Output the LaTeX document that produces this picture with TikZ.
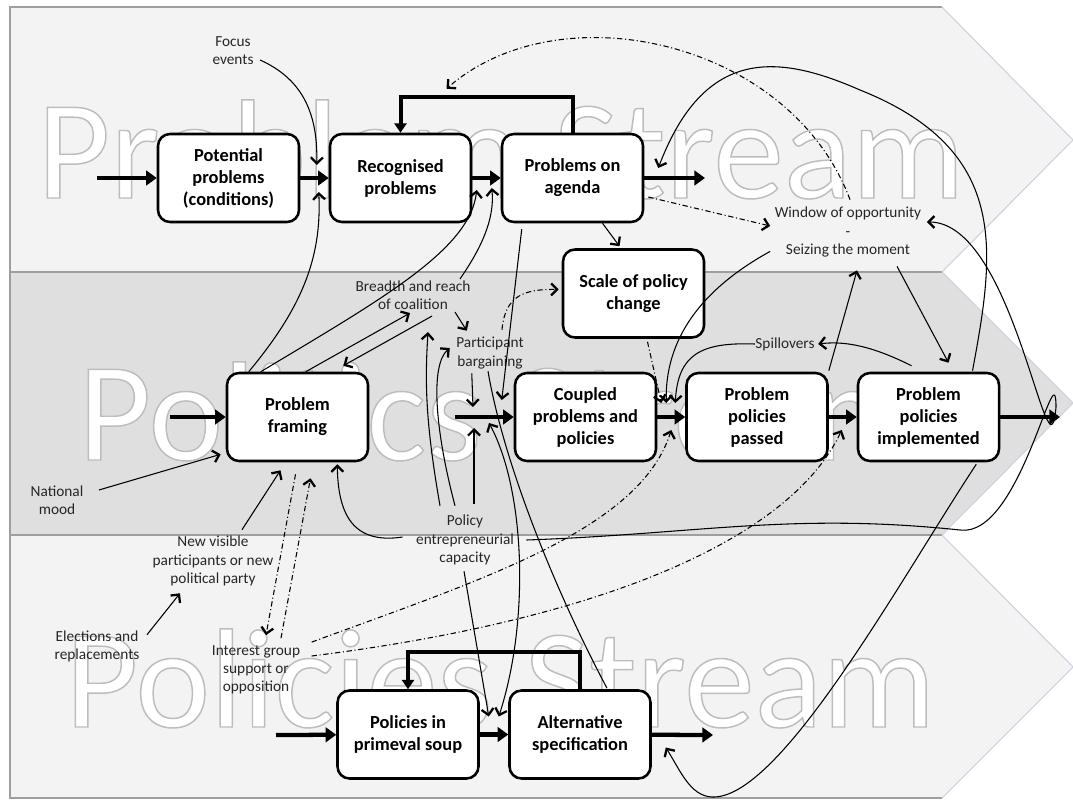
\documentclass[tikz,border=0pt]{standalone}
\usepackage{fontspec}
\setmainfont{Carlito}
\usetikzlibrary{arrows.meta,calc}

\definecolor{bandlight}{HTML}{F3F3F3}
\definecolor{banddark}{HTML}{DFDFDF}
\definecolor{bandedge}{HTML}{9E9E9E}
\definecolor{bandtip}{HTML}{CBD3E1}
\definecolor{labeltext}{HTML}{262626}

\tikzset{
  box/.style={draw=black, line width=1.9pt, fill=white, rounded corners=9pt,
    minimum width=105.75pt, minimum height=66pt, inner sep=0pt, align=center,
    font=\fontsize{13.8}{16.5}\selectfont\bfseries},
  lbl/.style={align=center, inner sep=1pt, text=labeltext,
    font=\fontsize{11.5}{13.6}\selectfont},
  mainarrow/.style={line width=3.2pt, -{Triangle[length=8pt,width=11pt]}},
  loopline/.style={line width=3pt, -{Triangle[length=7pt,width=9pt]}},
  conn/.style={line width=0.8pt, -{Straight Barb[length=4.5pt,width=9pt,line width=1.7pt]}},
  bothconn/.style={line width=0.8pt,
    {Straight Barb[length=4.5pt,width=9pt,line width=1.7pt]}-{Straight Barb[length=4.5pt,width=9pt,line width=1.7pt]}},
  plainconn/.style={line width=0.8pt},
  dashdot/.style={dash pattern=on 4pt off 2pt on 0.8pt off 2pt},
  wm/.style={anchor=base west, inner sep=0pt, text=white, font=\fontsize{106}{106}\selectfont},
}

% outlined lettering: white fill, thin grey stroke (PDF text render mode 2)
\newcommand\outlined[1]{%
  \special{pdf:literal direct 2 Tr 1.1 w 0.74 G}#1\special{pdf:literal direct 0 Tr}}

\begin{document}
\begin{tikzpicture}[x=0.75pt,y=-0.75pt]
\useasboundingbox (0,0) rectangle (1073,802);

% the three stream bands
\fill[bandlight] (10,7) -- (942,7) -- (1073,140) -- (942,272) -- (10,272) -- cycle;
\fill[banddark]  (10,272) -- (942,272) -- (1073,403) -- (942,535) -- (10,535) -- cycle;
\fill[bandlight] (10,535) -- (942,535) -- (1073,667) -- (942,798) -- (10,798) -- cycle;
\draw[bandedge, line width=0.8pt] (942,7) -- (10,7) -- (10,798) -- (942,798);
\draw[bandedge, line width=0.8pt] (10,272) -- (942,272) (10,535) -- (942,535);
\draw[bandtip, line width=0.8pt] (942,7) -- (1073,140) -- (942,272) -- (1073,403) -- (942,535) -- (1073,667) -- (942,798);

% stream titles
\node[wm] (wmtop) at (37,198) {\outlined{Problem Stream}};
\node[wm] (wmmid) at (78,460) {\outlined{Politics Stream}};
\node[wm] (wmbot) at (65,727) {\outlined{Policies Stream}};

% process boxes
\node[box] (pp)   at (228.5,178) {Potential\\problems\\(conditions)};
\node[box] (rp)   at (400.5,178) {Recognised\\problems};
\node[box] (pa)   at (572.5,178) {Problems on\\agenda};
\node[box] (sc)   at (633.5,293.5) {Scale of policy\\change};
\node[box] (pf)   at (297.5,417) {Problem\\framing};
\node[box] (cp)   at (585.5,417) {Coupled\\problems and\\policies};
\node[box] (ppas) at (757,417)   {Problem\\policies\\passed};
\node[box] (pimp) at (928.5,417) {Problem\\policies\\implemented};
\node[box] (soup) at (408,734.5) {Policies in\\primeval soup};
\node[box] (alt)  at (580,734.5) {Alternative\\specification};

% influence labels
\node[lbl] (focus)     at (233,51)  {Focus\\events};
\node[lbl] (window)    at (848,232) {Window of opportunity\\-\\Seizing the moment};
\node[lbl] (breadth)   at (413,295) {Breadth and reach\\of coalition};
\node[lbl] (barg)      at (490,353) {Participant\\bargaining};
\node[lbl] (spill)     at (785,344) {Spillovers};
\node[lbl] (national)  at (57,500)  {National\\mood};
\node[lbl] (cap)       at (465,540) {Policy\\entrepreneurial\\capacity};
\node[lbl] (newvis)    at (213,561) {New visible\\participants or new\\political party};
\node[lbl] (elections) at (97,646)  {Elections and\\replacements};
\node[lbl] (interest)  at (256,670) {Interest group\\support or\\opposition};

% free ends of the main flow
\coordinate (inP)  at (97,178);
\coordinate (outP) at (705,178);
\coordinate (inM)  at (170,417);
\coordinate (junc) at (455,417);
\coordinate (outM) at (1060,417);
\coordinate (inB)  at (276,735);
\coordinate (outB) at (713,735);

% main flow
\draw[mainarrow] (inP) -- (pp);
\draw[mainarrow] (pp) -- (rp);
\draw[mainarrow] (rp) -- (pa);
\draw[mainarrow] (pa) -- (outP);
\draw[loopline] (pa.north) -- ++(0,-36) -| (rp.north);
\draw[mainarrow] (inM) -- (pf);
\draw[mainarrow] (junc) -- (cp);
\draw[mainarrow] (cp) -- (ppas);
\draw[mainarrow] (ppas) -- (pimp);
\draw[mainarrow] (pimp) -- (outM);
\draw[mainarrow] (inB) -- (soup);
\draw[mainarrow] (soup) -- (alt);
\draw[mainarrow] (alt) -- (outB);
\draw[loopline] (alt.north) -- ++(0,-37) -| (soup.north);

% problem stream influences
\draw[conn] ($(focus.east)+(5,9)$) .. controls (300,78) and (318,110) .. ($(rp.west)+(-12,-13)$);
\draw[conn] ($(pf.north west)+(23,0)$) .. controls (300,310) and (322,260) .. ($(rp.west)+(-10,14)$);
\draw[conn] ($(pf.north west)+(35,0)$) .. controls (380,300) and (470,250) .. ($(pa.west)+(-24,12)$);
\draw[conn] ($(breadth.north east)+(-12,0)$) .. controls (480,250) and (495,220) .. ($(pa.west)+(-9,10)$);
\draw[conn] ($(pa.south)+(30,0)$) -- ($(sc.north)+(-14,-2)$);
\draw[conn,dashdot] ($(pa.east)+(4,19)$) -- ($(window.west)+(-3,-6)$);
\draw[conn,dashdot] ($(window.north)+(2,-6)$) .. controls (790,40) and (560,-10) .. ($(rp.north)+(46,-44)$);
\draw[conn] ($(pimp.north)+(44,-1)$) .. controls (995,250) and (1010,150) .. (860,90)
  .. controls (780,55) and (705,45) .. ($(pa.east)+(14,-10)$);

% politics stream influences
\draw[conn] ($(pf.north west)+(80,0)$) -- ($(breadth.south)+(-3,2)$);
\draw[conn] ($(breadth.south)+(19,5)$) -- ($(pf.north east)+(-26,-6)$);
\draw[conn] ($(breadth.south east)+(-17,1)$) -- ($(barg.north west)+(12,-5)$);
\draw[conn] ($(cap.north)+(-25,-8)$) .. controls (425,420) and (425,380) .. ($(breadth.south)+(15,21)$);
\draw[conn] ($(cap.north)+(-10,-8)$) .. controls (435,430) and (430,365) .. ($(barg.west)+(-5,-5)$);
\draw[conn] ($(cap.north)+(9,-10)$) -- ($(junc)+(19,11)$);
\draw[conn] ($(barg.south west)+(17,3)$) -- ($(junc)+(18,-10)$);
\draw[conn] ($(pa.south west)+(21,6)$) -- ($(cp.west)+(-12,-17)$);
\draw[conn,dashdot] ($(barg.north)+(12,-6)$) .. controls (505,295) and (525,289) .. ($(sc.west)+(-3,-4)$);
\draw[conn,dashdot] ($(sc.south)+(14,3)$) -- ($(cp.east)+(4,-14)$);
\draw[conn] ($(window.south west)+(-3,-7)$) .. controls (700,290) and (665,340) .. ($(cp.east)+(9,-14)$);
\draw[conn] ($(spill.west)+(1,0)$) .. controls (700,342) and (678,355) .. ($(ppas.west)+(-10,-14)$);
\draw[conn] ($(ppas.north east)+(0,-1)$) -- ($(window.south)+(9,12)$);
\draw[conn] ($(window.south)+(49,8)$) -- ($(pimp.north)+(20,-9)$);
\draw[conn] ($(pimp.north)+(-17,-6)$) .. controls (880,350) and (850,340) .. ($(spill.east)+(2,0)$);
\draw[conn] ($(national.east)+(14,-10)$) -- ($(pf.south west)+(-5,-8)$);
\draw[conn] ($(newvis.north)+(29,-5)$) -- ($(pf.south)+(-17,8)$);
\draw[conn] ($(cap.west)+(-12,-3)$) .. controls (350,545) and (338,510) .. ($(pf.south east)+(-32,2)$);
\draw[conn,dashdot] ($(pf.south)+(-2,12)$) -- ($(interest.north)+(10,-9)$);
\draw[conn,dashdot] ($(interest.north)+(25,-6)$) -- ($(pf.south)+(13,16)$);
\draw[conn] ($(cap.east)+(11,0)$) to[out=2,in=174] (960,530) to[out=-8,in=90] (1056,407)
  to[out=-95,in=0] ($(window.east)+(4,-10)$);

% policy stream influences
\draw[conn] ($(elections.north east)+(6,6)$) -- ($(newvis.south)+(-33,6)$);
\draw[conn] ($(cap.south)+(-1,5)$) -- ($(soup.east)+(9,-18)$);
\draw[bothconn] ($(junc)+(34,6)$) .. controls (525,490) and (530,620) .. ($(soup.east)+(19,-18)$);
\draw[plainconn] ($(barg.south)+(-2,1)$) .. controls (505,470) and (560,600) .. ($(alt.north)+(27,-1)$);
\draw[conn,dashdot] ($(interest.north east)+(10,-2)$) .. controls (480,580) and (640,530) .. ($(ppas.west)+(-14,13)$);
\draw[conn,dashdot] ($(interest.east)+(10,-14)$) .. controls (600,620) and (790,540) .. ($(pimp.west)+(-15,13)$);
\draw[conn] ($(pimp.south east)+(-24,2)$) .. controls (900,580) and (780,800) .. (712,797)
  .. controls (690,796) and (680,770) .. ($(alt.east)+(14,13)$);
\end{tikzpicture}
\end{document}
